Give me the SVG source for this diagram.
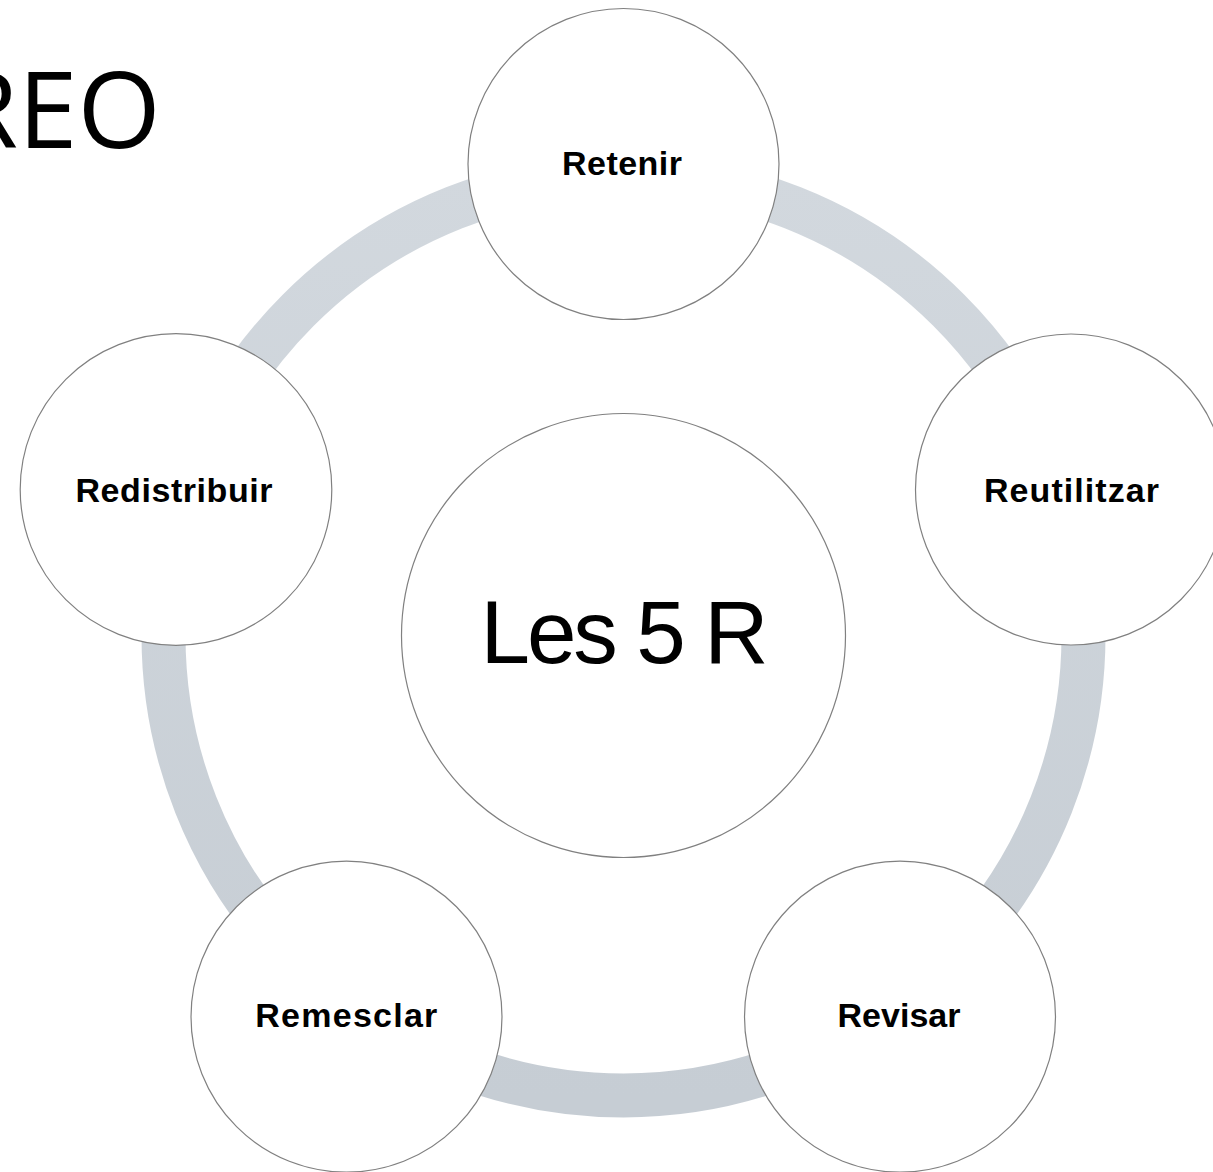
<svg xmlns="http://www.w3.org/2000/svg" width="1213" height="1172" viewBox="0 0 1213 1172">
  <defs>
    <linearGradient id="ringGrad" x1="0" y1="0" x2="0" y2="1">
      <stop offset="0" stop-color="#d2d8de"/>
      <stop offset="1" stop-color="#c6cdd4"/>
    </linearGradient>
    <style>
      .node circle { fill: #ffffff; stroke: #808080; stroke-width: 1.2; }
      .label { font-family: "Liberation Sans", Arial, sans-serif; font-weight: bold; font-size: 34px; fill: #000000; text-anchor: middle; }
      .center-label { font-family: "Liberation Sans", Arial, sans-serif; font-size: 89px; fill: #000000; text-anchor: middle; }
      .title { font-family: "Open Sans", "Liberation Sans", sans-serif; font-size: 107px; fill: #000000; }
    </style>
  </defs>
  <rect x="0" y="0" width="1213" height="1172" fill="#ffffff"/>
  <text class="title" x="-48" y="148">REO</text>
  <g id="connectors">
    <circle cx="623.5" cy="635.5" r="460" fill="none" stroke="url(#ringGrad)" stroke-width="44"/>
  </g>
  <g id="center" class="node">
    <circle cx="623.5" cy="635.5" r="222"/>
    <text class="center-label" x="624.5" y="663" textLength="288" lengthAdjust="spacing">Les 5 R</text>
  </g>
  <g id="retenir" class="node">
    <circle cx="623.5" cy="164" r="155.5"/>
    <text class="label" x="622" y="175" textLength="120">Retenir</text>
  </g>
  <g id="reutilitzar" class="node">
    <circle cx="1071" cy="489.5" r="155.5"/>
    <text class="label" x="1071.5" y="501.5" textLength="175">Reutilitzar</text>
  </g>
  <g id="revisar" class="node">
    <circle cx="900" cy="1016.7" r="155.5"/>
    <text class="label" x="899" y="1026.7" textLength="123">Revisar</text>
  </g>
  <g id="remesclar" class="node">
    <circle cx="346.5" cy="1016.7" r="155.5"/>
    <text class="label" x="346.3" y="1026.7" textLength="182">Remesclar</text>
  </g>
  <g id="redistribuir" class="node">
    <circle cx="176" cy="489.5" r="155.8"/>
    <text class="label" x="174" y="501.5" textLength="197">Redistribuir</text>
  </g>
</svg>
